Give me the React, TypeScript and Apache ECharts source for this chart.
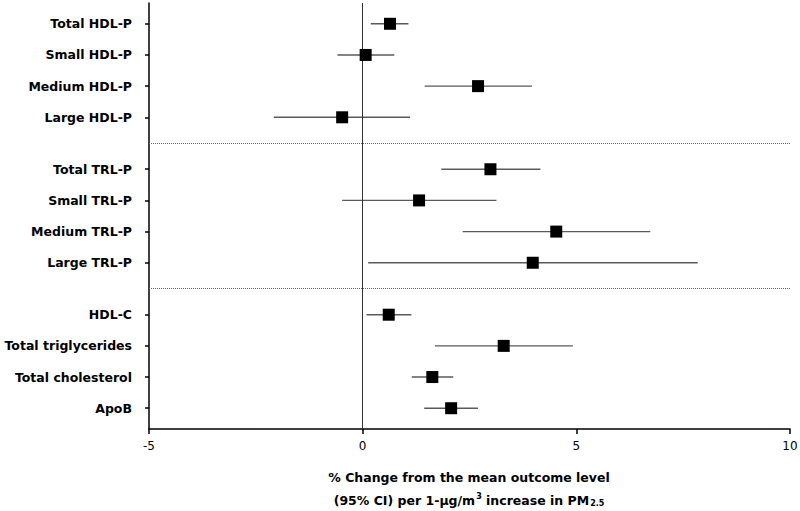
import React, { useEffect, useRef } from "react";
import * as echarts from "echarts";

const labels = [
  "Total HDL-P",
  "Small HDL-P",
  "Medium HDL-P",
  "Large HDL-P",
  "Total TRL-P",
  "Small TRL-P",
  "Medium TRL-P",
  "Large TRL-P",
  "HDL-C",
  "Total triglycerides",
  "Total cholesterol",
  "ApoB",
];
const groupOf = [0, 0, 0, 0, 1, 1, 1, 1, 2, 2, 2, 2];
const estimates = [0.64, 0.07, 2.7, -0.48, 2.99, 1.32, 4.53, 3.98, 0.61, 3.3, 1.63, 2.07];
const lower = [0.19, -0.59, 1.45, -2.08, 1.84, -0.48, 2.34, 0.13, 0.09, 1.69, 1.15, 1.44];
const upper = [1.07, 0.74, 3.96, 1.11, 4.16, 3.13, 6.73, 7.84, 1.14, 4.92, 2.12, 2.7];
const xTicks = [-5, 0, 5, 10];

const GROUP_GAP = 2 / 3;
const positions = labels.map((_, i) => i + groupOf[i] * GROUP_GAP);
const separators: number[] = [];
for (let i = 1; i < labels.length; i++) {
  if (groupOf[i] !== groupOf[i - 1]) separators.push((positions[i] + positions[i - 1]) / 2);
}

const FONT = "DejaVu Sans";

export default function App() {
  const ref = useRef<HTMLDivElement>(null);
  useEffect(() => {
    document.body.style.margin = "0";
    const chart = echarts.init(ref.current!, null, { renderer: "svg" });
    chart.setOption({
      animation: false,
      backgroundColor: "#fff",
      grid: {
        left: 149,
        right: 10,
        top: 3,
        bottom: 82,
        containLabel: false,
        outerBoundsMode: "none",
      },
      xAxis: {
        type: "value",
        min: xTicks[0],
        max: xTicks[xTicks.length - 1],
        interval: 5,
        axisLine: { show: true, onZero: false, lineStyle: { color: "#000", width: 1.5 } },
        axisTick: { show: true, length: 5, lineStyle: { color: "#000", width: 1.5 } },
        axisLabel: { color: "#000", fontFamily: FONT, fontSize: 12, margin: 11 },
        splitLine: { show: false },
      },
      yAxis: {
        type: "value",
        inverse: true,
        min: -2 / 3,
        max: 13,
        axisLine: { show: true, onZero: false, lineStyle: { color: "#000", width: 1.5 } },
        axisTick: {
          show: true,
          length: 4,
          customValues: positions,
          lineStyle: { color: "#000", width: 1.5 },
        },
        axisLabel: {
          customValues: positions,
          color: "#000",
          fontFamily: FONT,
          fontWeight: "bold",
          fontSize: 12.5,
          margin: 17,
          formatter: (v: number) => {
            const idx = positions.findIndex((p) => Math.abs(p - v) < 1e-6);
            return idx >= 0 ? labels[idx] : "";
          },
        },
        splitLine: { show: false },
      },
      series: [
        {
          type: "custom",
          data: positions.map((p, i) => [lower[i], upper[i], p]),
          encode: { x: [0, 1], y: 2 },
          renderItem: (params: any, api: any) => {
            const a = api.coord([api.value(0), api.value(2)]);
            const b = api.coord([api.value(1), api.value(2)]);
            return {
              type: "line",
              shape: { x1: a[0], y1: a[1], x2: b[0], y2: b[1] },
              style: { stroke: "#5a5a5a", lineWidth: 1.4 },
            };
          },
          z: 3,
        },
        {
          type: "scatter",
          data: positions.map((p, i) => [estimates[i], p]),
          symbol: "rect",
          symbolSize: 12,
          itemStyle: { color: "#000", opacity: 1 },
          z: 5,
          markLine: {
            silent: true,
            symbol: "none",
            label: { show: false },
            data: [
              { xAxis: 0, lineStyle: { type: "solid", color: "#333", width: 1 } },
              ...separators.map((s) => ({
                yAxis: s,
                lineStyle: { type: "dotted", color: "#666", width: 1 },
              })),
            ],
          },
        },
      ],
      graphic: [
        {
          type: "text",
          x: 469,
          y: 477,
          style: {
            text: "% Change from the mean outcome level",
            fontFamily: FONT,
            fontWeight: "bold",
            fontSize: 12.5,
            fill: "#000",
            align: "center",
            verticalAlign: "middle",
          },
        },
        {
          type: "text",
          x: 469,
          y: 500,
          style: {
            text: "(95% CI) per 1-µg/m{sup|3} increase in PM{sub|2.5}",
            fontFamily: FONT,
            fontWeight: "bold",
            fontSize: 12.5,
            fill: "#000",
            align: "center",
            verticalAlign: "middle",
            rich: {
              sup: { fontFamily: FONT, fontWeight: "bold", fontSize: 8, padding: [0, 0, 8, 1], fill: "#000" },
              sub: { fontFamily: FONT, fontWeight: "bold", fontSize: 8, padding: [6, 0, 0, 1], fill: "#000" },
            },
          },
        },
      ],
    });
    return () => chart.dispose();
  }, []);
  return (
    <div
      ref={ref}
      style={{ position: "absolute", left: 0, top: 0, width: 800, height: 511 }}
    />
  );
}
